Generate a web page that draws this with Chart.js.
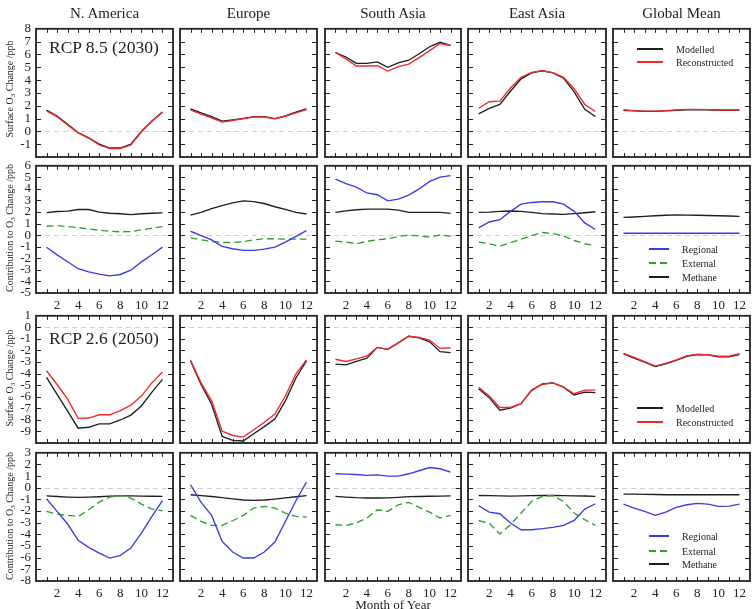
<!DOCTYPE html>
<html><head><meta charset="utf-8">
<script src="https://cdn.jsdelivr.net/npm/chart.js@4.4.1/dist/chart.umd.min.js"></script>
<style>
html,body{margin:0;padding:0;background:#fff;}
body{width:755px;height:609px;position:relative;overflow:hidden;font-family:"Liberation Serif","Times New Roman",serif;color:#222;}
canvas{position:absolute;}
.ttl{position:absolute;font-size:15px;white-space:nowrap;transform:translate(-50%,-50%);}
.yt{position:absolute;font-size:10px;white-space:nowrap;transform:translate(-50%,-50%) rotate(-90deg);}
.yt sub{font-size:7px;vertical-align:-2px;line-height:0;}
.rcp{position:absolute;font-size:17.5px;white-space:nowrap;transform:translateY(-50%);}
.lg{position:absolute;font-size:10px;white-space:nowrap;transform:translateY(-50%);}
.ls{position:absolute;height:1.5px;}
</style>
</head><body>
<script>
// ---------------- DATA ----------------
const months = [1,2,3,4,5,6,7,8,9,10,11,12];
const regions = ["N. America","Europe","South Asia","East Asia","Global Mean"];
const scenarioLabels = ["RCP 8.5 (2030)","RCP 2.6 (2050)"];
const seriesSurface = ["Modelled","Reconstructed"];
const seriesContrib = ["Regional","External","Methane"];

// RCP 8.5 (2030) surface O3 change (ppb)
const r85_mod_NA = [1.65,1.2,0.55,-0.1,-0.5,-1.0,-1.3,-1.3,-1.0,0.0,0.8,1.5];
const r85_rec_NA = [1.6,1.15,0.5,-0.12,-0.52,-1.05,-1.35,-1.35,-1.05,-0.05,0.78,1.5];
const r85_mod_EU = [1.75,1.45,1.15,0.8,0.9,1.0,1.15,1.15,1.0,1.2,1.5,1.75];
const r85_rec_EU = [1.65,1.35,1.05,0.72,0.85,1.0,1.12,1.12,0.98,1.18,1.45,1.7];
const r85_mod_SA = [6.15,5.8,5.3,5.3,5.42,5.0,5.35,5.55,6.05,6.6,6.95,6.7];
const r85_rec_SA = [6.15,5.65,5.1,5.1,5.12,4.7,5.05,5.25,5.75,6.3,6.85,6.7];
const r85_mod_EA = [1.37,1.8,2.1,3.13,4.1,4.56,4.73,4.56,4.15,3.08,1.72,1.16];
const r85_rec_EA = [1.8,2.31,2.36,3.38,4.22,4.6,4.73,4.58,4.22,3.33,2.1,1.55];
const r85_mod_GM = [1.65,1.6,1.56,1.56,1.6,1.64,1.68,1.7,1.68,1.65,1.65,1.66];
const r85_rec_GM = [1.67,1.62,1.58,1.58,1.62,1.67,1.71,1.72,1.7,1.67,1.67,1.68];

// RCP 8.5 (2030) contributions (ppb)
const r85_reg_NA = [-1.05,-1.7,-2.3,-2.9,-3.17,-3.37,-3.52,-3.4,-3.03,-2.31,-1.69,-1.03];
const r85_ext_NA = [0.77,0.83,0.74,0.66,0.54,0.43,0.34,0.29,0.31,0.46,0.6,0.74];
const r85_ch4_NA = [1.95,2.05,2.08,2.22,2.22,2.0,1.9,1.85,1.78,1.85,1.9,1.93];
const r85_reg_EU = [0.34,-0.03,-0.4,-0.97,-1.17,-1.31,-1.31,-1.2,-1.03,-0.6,-0.11,0.4];
const r85_ext_EU = [-0.23,-0.4,-0.54,-0.63,-0.63,-0.57,-0.4,-0.31,-0.31,-0.34,-0.34,-0.34];
const r85_ch4_EU = [1.74,1.97,2.3,2.55,2.8,2.97,2.9,2.74,2.46,2.23,1.97,1.83];
const r85_reg_SA = [4.85,4.45,4.15,3.65,3.5,2.97,3.11,3.46,4.0,4.65,5.02,5.15];
const r85_ext_SA = [-0.51,-0.6,-0.74,-0.54,-0.4,-0.31,-0.11,0.0,-0.06,-0.17,0.03,-0.09];
const r85_ch4_SA = [1.97,2.1,2.2,2.25,2.25,2.25,2.17,1.97,1.97,1.97,1.97,1.89];
const r85_reg_EA = [0.63,1.14,1.34,2.06,2.69,2.83,2.89,2.89,2.69,2.06,1.06,0.49];
const r85_ext_EA = [-0.6,-0.74,-0.94,-0.66,-0.34,-0.03,0.23,0.14,-0.06,-0.46,-0.74,-0.91];
const r85_ch4_EA = [1.97,2.0,2.06,2.09,2.06,1.97,1.86,1.83,1.8,1.86,1.94,2.03];
const r85_reg_GM = [0.17,0.17,0.17,0.17,0.17,0.17,0.17,0.17,0.17,0.17,0.17,0.17];
const r85_ch4_GM = [1.54,1.57,1.62,1.68,1.72,1.75,1.74,1.72,1.7,1.68,1.66,1.63];

// RCP 2.6 (2050) surface O3 change (ppb)
const r26_mod_NA = [-4.32,-5.8,-7.25,-8.72,-8.64,-8.35,-8.35,-8.01,-7.59,-6.8,-5.6,-4.5];
const r26_rec_NA = [-3.75,-4.94,-6.2,-7.87,-7.84,-7.56,-7.56,-7.2,-6.73,-5.94,-4.8,-3.86];
const r26_mod_EU = [-2.9,-4.94,-6.65,-9.43,-9.77,-9.83,-9.2,-8.58,-7.93,-6.36,-4.38,-2.9];
const r26_rec_EU = [-2.85,-4.8,-6.36,-8.98,-9.35,-9.49,-8.86,-8.21,-7.5,-5.94,-4.03,-2.81];
const r26_mod_SA = [-3.18,-3.24,-2.95,-2.67,-1.73,-1.9,-1.34,-0.77,-0.91,-1.25,-2.1,-2.19];
const r26_rec_SA = [-2.76,-2.95,-2.73,-2.47,-1.73,-1.9,-1.34,-0.77,-0.88,-1.1,-1.82,-1.76];
const r26_mod_EA = [-5.31,-6.08,-7.16,-6.99,-6.59,-5.45,-4.89,-4.8,-5.17,-5.85,-5.6,-5.65];
const r26_rec_EA = [-5.17,-5.94,-6.93,-6.93,-6.59,-5.4,-4.94,-4.8,-5.17,-5.74,-5.43,-5.43];
const r26_mod_GM = [-2.3,-2.65,-3.0,-3.38,-3.15,-2.85,-2.5,-2.35,-2.38,-2.55,-2.55,-2.35];
const r26_rec_GM = [-2.25,-2.6,-2.97,-3.35,-3.12,-2.82,-2.47,-2.33,-2.36,-2.5,-2.5,-2.28];

// RCP 2.6 (2050) contributions (ppb)
const r26_reg_NA = [-0.94,-2.03,-3.11,-4.51,-5.11,-5.6,-6.03,-5.8,-5.17,-3.89,-2.46,-1.11];
const r26_ext_NA = [-2.03,-2.26,-2.37,-2.46,-1.89,-1.23,-0.8,-0.66,-0.89,-1.4,-1.83,-1.97];
const r26_ch4_NA = [-0.7,-0.75,-0.8,-0.83,-0.8,-0.77,-0.72,-0.7,-0.7,-0.72,-0.73,-0.74];
const r26_reg_EU = [0.26,-1.26,-2.37,-4.6,-5.51,-6.03,-6.03,-5.51,-4.66,-2.89,-1.11,0.49];
const r26_ext_EU = [-2.37,-2.89,-3.23,-3.23,-2.83,-2.37,-1.74,-1.6,-1.74,-2.17,-2.46,-2.51];
const r26_ch4_EU = [-0.6,-0.67,-0.75,-0.85,-0.95,-1.05,-1.08,-1.05,-0.97,-0.87,-0.77,-0.67];
const r26_reg_SA = [1.2,1.17,1.14,1.06,1.11,1.0,1.0,1.2,1.46,1.74,1.63,1.34];
const r26_ext_SA = [-3.17,-3.23,-3.03,-2.6,-1.89,-2.03,-1.46,-1.26,-1.69,-2.09,-2.6,-2.37];
const r26_ch4_SA = [-0.74,-0.8,-0.85,-0.88,-0.88,-0.87,-0.82,-0.76,-0.75,-0.73,-0.72,-0.7];
const r26_reg_EA = [-1.54,-2.09,-2.23,-3.03,-3.6,-3.6,-3.51,-3.4,-3.23,-2.8,-1.83,-1.37];
const r26_ext_EA = [-2.83,-3.03,-3.97,-3.17,-2.17,-1.17,-0.74,-0.66,-1.17,-2.17,-2.74,-3.23];
const r26_ch4_EA = [-0.66,-0.68,-0.7,-0.72,-0.7,-0.68,-0.66,-0.66,-0.67,-0.69,-0.71,-0.74];
const r26_reg_GM = [-1.4,-1.74,-2.03,-2.37,-2.09,-1.69,-1.46,-1.34,-1.4,-1.6,-1.57,-1.4];
const r26_ch4_GM = [-0.54,-0.55,-0.57,-0.58,-0.6,-0.6,-0.6,-0.6,-0.6,-0.6,-0.6,-0.6];

// axis ranges per row
const rowYMin = [-2,-5,-10,-8];
const rowYMax = [8,6,1,3];
const rowHiddenYLabels = [[-2],[],[-10],[]];

// ---------------- LAYOUT / STYLE ----------------
const FONT = "'Liberation Serif','Times New Roman',serif";
const colLeft = [36,180,325,468,613], colRight = [173,317,461,606,750];
const rowTop = [26,163,313,450], rowBottom = [157,293,443,581];
const ML = 34, MR = 8, MT = 10, MB = 20;
const C_BLACK = '#1e1e1e', C_RED = '#ee2a2a', C_BLUE = '#3b3be6', C_GREEN = '#2f9e2f';

const framePlugin = {
  id: 'frame',
  beforeDatasetsDraw(chart) {
    const {ctx, chartArea: a, scales: {y}} = chart;
    const y0 = y.getPixelForValue(0);
    ctx.save();
    ctx.strokeStyle = '#cfcfcf'; ctx.lineWidth = 1; ctx.setLineDash([5,4]);
    ctx.beginPath(); ctx.moveTo(a.left, Math.round(y0)+0.5); ctx.lineTo(a.right, Math.round(y0)+0.5); ctx.stroke();
    ctx.restore();
  },
  afterDatasetsDraw(chart) {
    const {ctx, chartArea: a, scales: {x, y}} = chart;
    ctx.save();
    ctx.strokeStyle = '#222'; ctx.lineWidth = 1;
    ctx.beginPath();
    for (let v = 1; v <= 12; v++) {
      const px = Math.round(x.getPixelForValue(v)) + 0.5;
      ctx.moveTo(px, a.bottom); ctx.lineTo(px, a.bottom - 4);
      ctx.moveTo(px, a.top); ctx.lineTo(px, a.top + 4);
    }
    for (let v = Math.ceil(y.min) + 1; v < y.max; v++) {
      const py = Math.round(y.getPixelForValue(v)) + 0.5;
      ctx.moveTo(a.left, py); ctx.lineTo(a.left + 5, py);
      ctx.moveTo(a.right, py); ctx.lineTo(a.right - 5, py);
    }
    ctx.stroke();
    ctx.lineWidth = 1.8; ctx.strokeStyle = '#222';
    ctx.strokeRect(a.left, a.top, a.right - a.left, a.bottom - a.top);
    ctx.restore();
  }
};

function pts(vals) { return months.map((m, i) => ({x: m, y: vals[i]})); }
function ds(label, vals, color, dash) {
  return {label, data: pts(vals), borderColor: color, borderWidth: 1.35, borderDash: dash || [], pointRadius: 0, fill: false, tension: 0};
}

function makePanel(r, c, datasets) {
  const L = colLeft[c], R = colRight[c], T = rowTop[r], B = rowBottom[r];
  const w = R - L + ML + MR, h = B - T + MT + MB;
  const cv = document.createElement('canvas');
  cv.width = w; cv.height = h;
  cv.style.left = (L - ML) + 'px'; cv.style.top = (T - MT) + 'px';
  cv.style.width = w + 'px'; cv.style.height = h + 'px';
  document.body.appendChild(cv);
  const showX = (r === 1 || r === 3);
  const showY = (c === 0);
  const hidden = rowHiddenYLabels[r];
  new Chart(cv, {
    type: 'line',
    data: {datasets},
    options: {
      responsive: false, animation: false, devicePixelRatio: 1,
      layout: {padding: {left: 0, right: MR, top: MT, bottom: 0}},
      plugins: {legend: {display: false}, tooltip: {enabled: false}},
      scales: {
        x: {
          type: 'linear', min: 0, max: 13,
          grid: {display: false, drawTicks: false}, border: {display: false},
          ticks: {stepSize: 1, autoSkip: false, maxRotation: 0, padding: 5, color: '#222',
            font: {family: FONT, size: 13},
            callback: v => (showX && v % 2 === 0 && v >= 2 && v <= 12) ? String(v) : ''},
          afterFit: s => { s.height = MB; }
        },
        y: {
          type: 'linear', min: rowYMin[r], max: rowYMax[r],
          grid: {display: false, drawTicks: false}, border: {display: false},
          ticks: {stepSize: 1, autoSkip: false, padding: 5, color: '#222',
            font: {family: FONT, size: 13},
            callback: v => (showY && !hidden.includes(v)) ? String(v) : ''},
          afterFit: s => { s.width = ML; }
        }
      }
    },
    plugins: [framePlugin]
  });
}

const DATA = {
  r85_mod: [r85_mod_NA, r85_mod_EU, r85_mod_SA, r85_mod_EA, r85_mod_GM],
  r85_rec: [r85_rec_NA, r85_rec_EU, r85_rec_SA, r85_rec_EA, r85_rec_GM],
  r85_reg: [r85_reg_NA, r85_reg_EU, r85_reg_SA, r85_reg_EA, r85_reg_GM],
  r85_ext: [r85_ext_NA, r85_ext_EU, r85_ext_SA, r85_ext_EA, null],
  r85_ch4: [r85_ch4_NA, r85_ch4_EU, r85_ch4_SA, r85_ch4_EA, r85_ch4_GM],
  r26_mod: [r26_mod_NA, r26_mod_EU, r26_mod_SA, r26_mod_EA, r26_mod_GM],
  r26_rec: [r26_rec_NA, r26_rec_EU, r26_rec_SA, r26_rec_EA, r26_rec_GM],
  r26_reg: [r26_reg_NA, r26_reg_EU, r26_reg_SA, r26_reg_EA, r26_reg_GM],
  r26_ext: [r26_ext_NA, r26_ext_EU, r26_ext_SA, r26_ext_EA, null],
  r26_ch4: [r26_ch4_NA, r26_ch4_EU, r26_ch4_SA, r26_ch4_EA, r26_ch4_GM]
};

function surfaceSets(p, c) {
  return [ds(seriesSurface[1], DATA[p+'_rec'][c], C_RED), ds(seriesSurface[0], DATA[p+'_mod'][c], C_BLACK)];
}
function contribSets(p, c) {
  const out = [ds(seriesContrib[0], DATA[p+'_reg'][c], C_BLUE)];
  if (DATA[p+'_ext'][c]) out.push(ds(seriesContrib[1], DATA[p+'_ext'][c], C_GREEN, [7,4]));
  out.push(ds(seriesContrib[2], DATA[p+'_ch4'][c], C_BLACK));
  return out;
}

for (let c = 0; c < 5; c++) {
  makePanel(0, c, surfaceSets('r85', c));
  makePanel(1, c, contribSets('r85', c));
  makePanel(2, c, surfaceSets('r26', c));
  makePanel(3, c, contribSets('r26', c));
}

// ---------------- TEXT ----------------
function addDiv(cls, html, left, top) {
  const d = document.createElement('div');
  d.className = cls; d.innerHTML = html;
  d.style.left = left + 'px'; d.style.top = top + 'px';
  document.body.appendChild(d);
  return d;
}
regions.forEach((name, c) => addDiv('ttl', name, (colLeft[c] + colRight[c]) / 2, 13));
const yTitles = ['Surface O<sub>3</sub> Change  /ppb','Contribution to O<sub>3</sub> Change  /ppb'];
for (let r = 0; r < 4; r++) addDiv('yt', yTitles[r % 2], 9, (rowTop[r] + rowBottom[r]) / 2 - (r === 0 ? 3 : 0));
addDiv('rcp', scenarioLabels[0], 49, 47);
addDiv('rcp', scenarioLabels[1], 49, 338);
const mx = addDiv('ttl', 'Month of Year', 393, 605); mx.style.fontSize = '13px';

function legendItem(x1, x2, y, color, dash, text, tx) {
  const s = document.createElement('div');
  s.className = 'ls';
  s.style.left = x1 + 'px'; s.style.width = (x2 - x1) + 'px'; s.style.top = (y - 0.75) + 'px';
  s.style.background = dash
    ? 'repeating-linear-gradient(90deg,' + color + ' 0 7px, transparent 7px 11px)'
    : color;
  document.body.appendChild(s);
  addDiv('lg', text, tx, y);
}
legendItem(637, 663, 49, C_BLACK, false, seriesSurface[0], 676);
legendItem(637, 663, 62, C_RED, false, seriesSurface[1], 676);
legendItem(637, 663, 408, C_BLACK, false, seriesSurface[0], 676);
legendItem(637, 663, 422, C_RED, false, seriesSurface[1], 676);
legendItem(649, 669, 249, C_BLUE, false, seriesContrib[0], 682);
legendItem(649, 669, 263, C_GREEN, true, seriesContrib[1], 682);
legendItem(649, 669, 277, C_BLACK, false, seriesContrib[2], 682);
legendItem(649, 669, 536, C_BLUE, false, seriesContrib[0], 682);
legendItem(649, 669, 551, C_GREEN, true, seriesContrib[1], 682);
legendItem(649, 669, 564, C_BLACK, false, seriesContrib[2], 682);
</script>
</body></html>
